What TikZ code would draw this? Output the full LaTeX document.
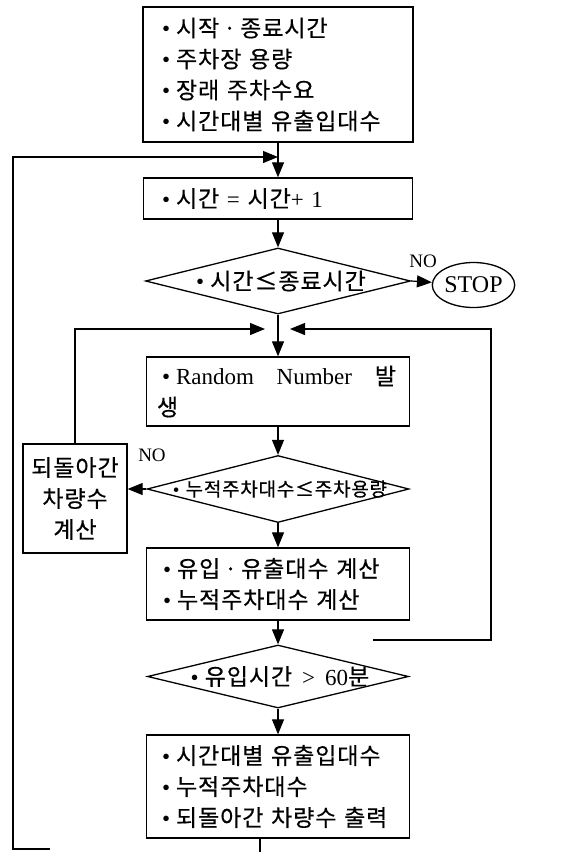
\documentclass[tikz,border=0pt]{standalone}
\usepackage{fontspec}
\setmainfont{Liberation Serif}
\newfontfamily\kfont[WordSpace=4.5,LetterSpace=4,FakeBold=0.5]{Noto Sans CJK KR}
\newcommand\bul{{\rmfamily •}\hspace{6pt}}
\usetikzlibrary{positioning,arrows.meta,shapes.geometric}

\tikzset{
  box/.style={draw,line width=1.3pt,rectangle,inner sep=0pt,align=left,
    font=\kfont\fontsize{23}{31}\selectfont},
  dia/.style={draw,line width=1.3pt,diamond,inner sep=0pt,
    font=\kfont\fontsize{23}{26}\selectfont},
  flow/.style={line width=1.2pt,-{Triangle[length=15pt,width=12pt]}},
  wire/.style={line width=1.2pt},
  nolab/.style={font=\fontsize{19}{20}\selectfont,inner sep=0pt}
}

\begin{document}
\begin{tikzpicture}[x=1pt,y=-1pt]
  \useasboundingbox (0,0) rectangle (569,852);
  \def\mx{278}
  % main column
  \node[box,minimum width=270pt,minimum height=135pt,text width=232pt] (inp) at (\mx,74.5)
    {\bul 시작\hspace{4pt}·\hspace{4pt}종료시간\\\bul 주차장 용량\\\bul 장래 주차수요\\\bul 시간대별 유출입대수};
  \node[box,minimum width=269pt,minimum height=41pt,text width=232pt] (tick) at (\mx,198.5)
    {\bul 시간 {\rmfamily =} 시간{\rmfamily + 1}};
  \node[dia,minimum width=265pt,minimum height=66pt] (chk1) at (\mx,281)
    {\makebox[0pt]{\hspace{6pt}\bul 시간≤종료시간}};
  \node[ellipse,draw,line width=1.3pt,minimum width=77pt,minimum height=45pt,inner sep=0pt,
    font=\fontsize{24}{25}\selectfont] (stop) at (473.5,285) {STOP};
  \node[box,minimum width=263pt,minimum height=69pt,text width=242pt] (rnd) at (\mx,391.5)
    {\makebox[242pt]{\hspace{5pt}\bul{\rmfamily Random}\hfill{\rmfamily Number}\hfill 발\hspace{3pt}}\\생};
  \node[dia,minimum width=262pt,minimum height=67pt,font=\kfont\fontsize{19}{22}\selectfont] (chk2) at (\mx,489)
    {\makebox[0pt]{\hspace{4pt}\bul 누적주차대수≤주차용량}};
  \node[box,align=center,minimum width=104pt,minimum height=109pt] (back) at (75,498.5)
    {되돌아간\\차량수\\계산};
  \node[box,minimum width=263pt,minimum height=72pt,text width=230pt] (calc) at (\mx,584)
    {\bul 유입\hspace{4pt}·\hspace{4pt}유출대수 계산\\\bul 누적주차대수 계산};
  \node[dia,minimum width=261pt,minimum height=63pt] (chk3) at (\mx,676.5)
    {\makebox[0pt]{\hspace{4pt}\bul 유입시간\hspace{10pt}{\rmfamily >\hspace{10pt}60}분}};
  \node[box,minimum width=263pt,minimum height=103pt,text width=232pt] (out) at (\mx,786.5)
    {\bul 시간대별 유출입대수\\\bul 누적주차대수\\\bul 되돌아간 차량수 출력};
  \node[nolab] (no1) at (423,261) {NO};
  \node[nolab] (no2) at (152,455) {NO};

  \coordinate (j1) at (\mx,157);
  \coordinate (jl) at (\mx-13,329);
  \coordinate (jr) at (\mx+12,329);
  \coordinate (rc) at (373,640);
  \coordinate (lb) at (50,849);
  \coordinate (ob) at (260,852);

  \draw[flow] (inp) -- (tick);
  \draw[flow] (tick) -- (chk1);
  \draw[flow] (chk1.east) -- (stop);
  \draw[flow] (chk1.south) -- (rnd);
  \draw[flow] (rnd) -- (chk2);
  \draw[flow] (chk2.west) -- (back.east |- chk2.west);
  \draw[flow] (chk2.south) -- (calc);
  \draw[flow] (calc) -- (chk3);
  \draw[flow] (chk3.south) -- (out);
  % loops back
  \draw[flow] (back.north) |- (jl);
  \draw[flow] (rc) -| (491,329) -- (jr);
  \draw[flow] (lb) -- (13,849) |- (j1);
  \draw[wire] (out.south -| ob) -- (ob);
\end{tikzpicture}
\end{document}
